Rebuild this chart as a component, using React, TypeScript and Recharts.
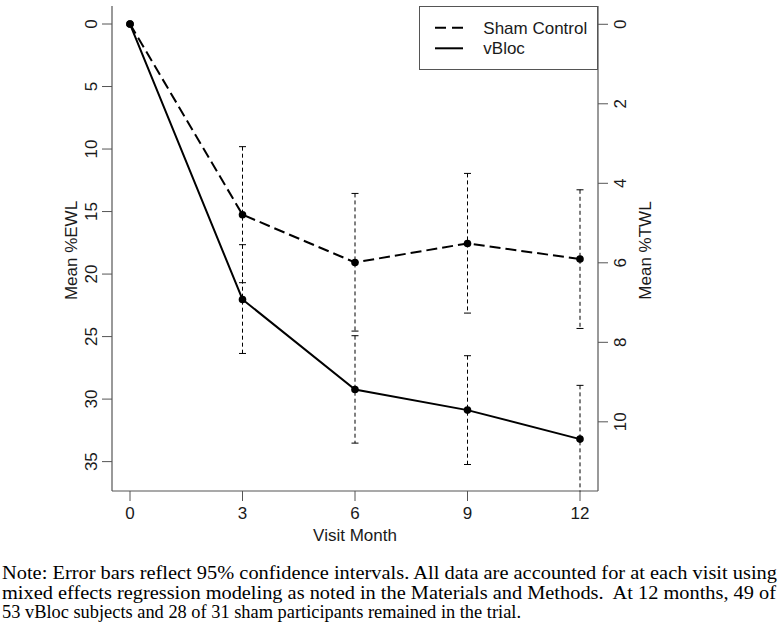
import React from 'react';
import { ComposedChart, Line, XAxis, YAxis, ErrorBar, Legend } from 'recharts';

const months = [0, 3, 6, 9, 12];
const shamEWL = [0, 15.25, 19.07, 17.55, 18.8];
const shamCILow = [null, 9.81, 13.55, 11.95, 13.26];
const shamCIHigh = [null, 20.69, 24.56, 23.12, 24.35];
const vblocEWL = [0, 22.03, 29.23, 30.88, 33.2];
const vblocCILow = [null, 17.65, 24.93, 26.53, 28.9];
const vblocCIHigh = [null, 26.35, 33.52, 35.23, 37.4];

const monthTicks = [0, 3, 6, 9, 12];
const ewlTicks = [0, 5, 10, 15, 20, 25, 30, 35];
const twlTicks = [0, 2, 4, 6, 8, 10];
const seriesNames = ['Sham Control', 'vBloc'];
const xTitle = 'Visit Month';
const leftTitle = 'Mean %EWL';
const rightTitle = 'Mean %TWL';
const noteLines = [
  'Note: Error bars reflect 95% confidence intervals. All data are accounted for at each visit using',
  'mixed effects regression modeling as noted in the Materials and Methods.  At 12 months, 49 of',
  '53 vBloc subjects and 28 of 31 sham participants remained in the trial.',
];
const noteLineWidths = [775, 774, 519];

const errPair = (v: number, lo: number | null, hi: number | null) =>
  lo == null || hi == null ? null : [v - lo, hi - v];

const data = months.map((m, i) => ({
  month: m,
  sham: shamEWL[i],
  shamLo: shamCILow[i],
  shamHi: shamCIHigh[i],
  shamErr: errPair(shamEWL[i], shamCILow[i], shamCIHigh[i]),
  vbloc: vblocEWL[i],
  vblocLo: vblocCILow[i],
  vblocHi: vblocCIHigh[i],
  vblocErr: errPair(vblocEWL[i], vblocCILow[i], vblocCIHigh[i]),
}));

const FONT = '"Liberation Sans", Arial, sans-serif';
const TXT = '#1a1a1a';
const FRAME = '#555555';

const CapDot = (props: any) => {
  const { cx, cy, index } = props;
  if (cx == null || cy == null || !Number.isFinite(cx) || !Number.isFinite(cy)) {
    return <g key={`cap-${index}`} />;
  }
  return (
    <line key={`cap-${index}`} x1={cx - 3.5} x2={cx + 3.5} y1={cy} y2={cy} stroke="#000" strokeWidth={1} />
  );
};

const LeftTick = (props: any) => {
  const { x, y, payload } = props;
  return (
    <text x={x - 3} y={y} transform={`rotate(-90, ${x - 3}, ${y})`} textAnchor="middle" fontSize={17} fontFamily={FONT} fill={TXT}>
      {payload.value}
    </text>
  );
};

const RightTick = (props: any) => {
  const { x, y, payload } = props;
  return (
    <text x={x + 16} y={y} transform={`rotate(-90, ${x + 16}, ${y})`} textAnchor="middle" fontSize={17} fontFamily={FONT} fill={TXT}>
      {payload.value}
    </text>
  );
};

const BottomTick = (props: any) => {
  const { x, y, payload } = props;
  return (
    <text x={x} y={y + 15.5} textAnchor="middle" fontSize={17} fontFamily={FONT} fill={TXT}>
      {payload.value}
    </text>
  );
};

const LegendBox = () => (
  <svg width={179} height={64} style={{ display: 'block' }}>
    <rect x={0.5} y={0.5} width={178} height={63} fill="#fff" stroke={FRAME} strokeWidth={1} />
    <line x1={16} x2={44} y1={21.7} y2={21.7} stroke="#000" strokeWidth={2} strokeDasharray="11 6" />
    <text x={64.3} y={27.5} fontSize={17} fontFamily={FONT} fill={TXT}>{seriesNames[0]}</text>
    <line x1={16} x2={44} y1={42.3} y2={42.3} stroke="#000" strokeWidth={2} />
    <text x={64.3} y={48.3} fontSize={17} fontFamily={FONT} fill={TXT}>{seriesNames[1]}</text>
  </svg>
);

export default function App() {
  return (
    <div style={{ position: 'absolute', left: 0, top: 0, width: 780, height: 632, background: '#fff' }}>
      <ComposedChart
        width={780}
        height={632}
        data={data}
        margin={{ top: 6, left: 52, right: 122, bottom: 101 }}
      >
        <XAxis
          xAxisId="bottom"
          dataKey="month"
          type="number"
          domain={[-0.48, 12.48]}
          ticks={monthTicks}
          allowDataOverflow
          height={40}
          tickSize={10}
          tickMargin={2}
          stroke={FRAME}
          axisLine={{ stroke: FRAME, strokeWidth: 1.2 }}
          tickLine={{ stroke: FRAME }}
          tick={<BottomTick />}
          label={(p: any) => {
            const vb = p.viewBox || {};
            return (
              <text x={vb.x + vb.width / 2} y={vb.y + 49.5} textAnchor="middle" fontSize={17} fontFamily={FONT} fill={TXT}>
                {xTitle}
              </text>
            );
          }}
        />
        <XAxis
          xAxisId="top"
          orientation="top"
          dataKey="month"
          type="number"
          domain={[-0.48, 12.48]}
          allowDataOverflow
          height={0}
          tick={false}
          tickLine={false}
          axisLine={{ stroke: FRAME, strokeWidth: 1.2 }}
        />
        <YAxis
          yAxisId="left"
          type="number"
          reversed
          domain={[-1.44, 37.35]}
          ticks={ewlTicks}
          allowDataOverflow
          width={60}
          tickSize={10}
          tickMargin={2}
          axisLine={{ stroke: FRAME, strokeWidth: 1.2 }}
          tickLine={{ stroke: FRAME }}
          tick={<LeftTick />}
          label={(p: any) => {
            const vb = p.viewBox || {};
            const cx = vb.x + 25;
            const cy = vb.y + vb.height / 2 + 2;
            return (
              <text x={cx} y={cy} transform={`rotate(-90, ${cx}, ${cy})`} textAnchor="middle" fontSize={17} fontFamily={FONT} fill={TXT}>
                {leftTitle}
              </text>
            );
          }}
        />
        <YAxis
          yAxisId="right"
          orientation="right"
          type="number"
          reversed
          domain={[-0.46, 11.74]}
          ticks={twlTicks}
          allowDataOverflow
          width={60}
          tickSize={10}
          tickMargin={2}
          axisLine={{ stroke: FRAME, strokeWidth: 1.2 }}
          tickLine={{ stroke: FRAME }}
          tick={<RightTick />}
          label={(p: any) => {
            const vb = p.viewBox || {};
            const cx = vb.x + 53;
            const cy = vb.y + vb.height / 2 + 2;
            return (
              <text x={cx} y={cy} transform={`rotate(-90, ${cx}, ${cy})`} textAnchor="middle" fontSize={17} fontFamily={FONT} fill={TXT}>
                {rightTitle}
              </text>
            );
          }}
        />
        <Legend
          layout="vertical"
          align="center"
          verticalAlign="middle"
          content={<LegendBox />}
          wrapperStyle={{ position: 'absolute', left: 419, top: 6, width: 179, height: 64 }}
        />
        <Line
          xAxisId="bottom"
          yAxisId="left"
          dataKey="sham"
          name={seriesNames[0]}
          stroke="#000"
          strokeWidth={2}
          strokeDasharray="11 5"
          dot={{ r: 3.8, fill: '#000', stroke: 'none', strokeDasharray: '' }}
          activeDot={false}
          isAnimationActive={false}
        >
          <ErrorBar dataKey="shamErr" direction="y" width={0} stroke="#000" strokeWidth={1} strokeDasharray="4 3" isAnimationActive={false} />
        </Line>
        <Line
          xAxisId="bottom"
          yAxisId="left"
          dataKey="vbloc"
          name={seriesNames[1]}
          stroke="#000"
          strokeWidth={2}
          dot={{ r: 3.8, fill: '#000', stroke: 'none' }}
          activeDot={false}
          isAnimationActive={false}
        >
          <ErrorBar dataKey="vblocErr" direction="y" width={0} stroke="#000" strokeWidth={1} strokeDasharray="4 3" isAnimationActive={false} />
        </Line>
        {['shamLo', 'shamHi', 'vblocLo', 'vblocHi'].map((k) => (
          <Line
            key={k}
            xAxisId="bottom"
            yAxisId="left"
            dataKey={k}
            stroke="none"
            legendType="none"
            dot={<CapDot />}
            activeDot={false}
            isAnimationActive={false}
          />
        ))}
      </ComposedChart>
      <svg width={780} height={632} style={{ position: 'absolute', left: 0, top: 0, pointerEvents: 'none' }}>
        {noteLines.map((t, i) => (
          <text
            key={i}
            x={2}
            y={579.3 + i * 19.5}
            fontSize={19.5}
            fontFamily='"Liberation Serif", "Times New Roman", serif'
            fill="#000"
            textLength={noteLineWidths[i]}
            lengthAdjust="spacingAndGlyphs"
            style={{ whiteSpace: 'pre' }}
          >
            {t}
          </text>
        ))}
      </svg>
    </div>
  );
}
